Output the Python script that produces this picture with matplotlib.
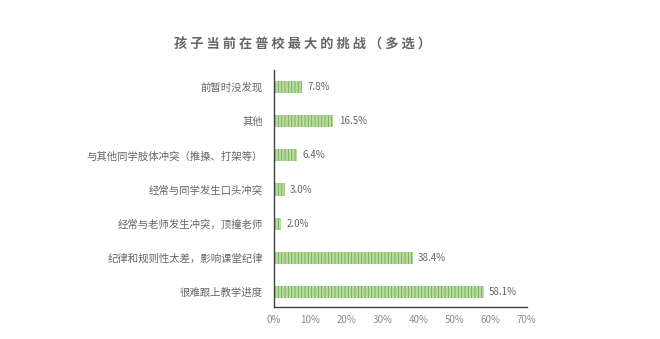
import matplotlib
matplotlib.use("Agg")
import matplotlib.pyplot as plt
from matplotlib.ticker import FuncFormatter

plt.rcParams['font.family'] = ['Noto Sans CJK SC', 'DejaVu Sans']
plt.rcParams['hatch.linewidth'] = 0.6

categories = ["很难跟上教学进度", "纪律和规则性太差，影响课堂纪律", "经常与老师发生冲突，顶撞老师",
              "经常与同学发生口头冲突", "与其他同学肢体冲突（推搡、打架等）", "其他", "前暂时没发现"]
values = [58.1, 38.4, 2.0, 3.0, 6.4, 16.5, 7.8]
xticks = [0, 10, 20, 30, 40, 50, 60, 70]
title = "孩子当前在普校最大的挑战（多选）"

fig = plt.figure(figsize=(6.6, 3.39), dpi=100)
ax = fig.add_axes([0.415, 0.094, 0.383, 0.70])

y = list(range(len(categories)))
ax.barh(y, values, height=0.36, color='#b9dca0', edgecolor='#6fa84c', hatch='|||||', linewidth=0)
for yi, v in zip(y, values):
    ax.text(v + 1.5, yi, f"{v:.1f}%", va='center', ha='left', fontsize=7, color='#666666')

ax.set_yticks(y)
ax.set_yticklabels(categories, fontsize=7.5, color='#666666')
ax.set_xticks(xticks)
ax.xaxis.set_major_formatter(FuncFormatter(lambda v, p: f"{int(v)}%"))
ax.tick_params(axis='x', labelsize=7, colors='#8c8c8c', length=0, pad=6)
ax.tick_params(axis='y', length=0, pad=8)
ax.set_xlim(0, 70)
ax.set_ylim(-0.44, 6.5)
for s in ['top', 'right']:
    ax.spines[s].set_visible(False)
ax.spines['left'].set_color('#404040')
ax.spines['bottom'].set_color('#404040')
ax.spines['left'].set_linewidth(1.0)
ax.spines['bottom'].set_linewidth(1.0)

fig.text(0.458, 0.867, " ".join(title), ha='center', va='center', fontsize=9.5,
         color='#666666', fontweight='bold')

fig.savefig("out.png", dpi=100, facecolor='white')
